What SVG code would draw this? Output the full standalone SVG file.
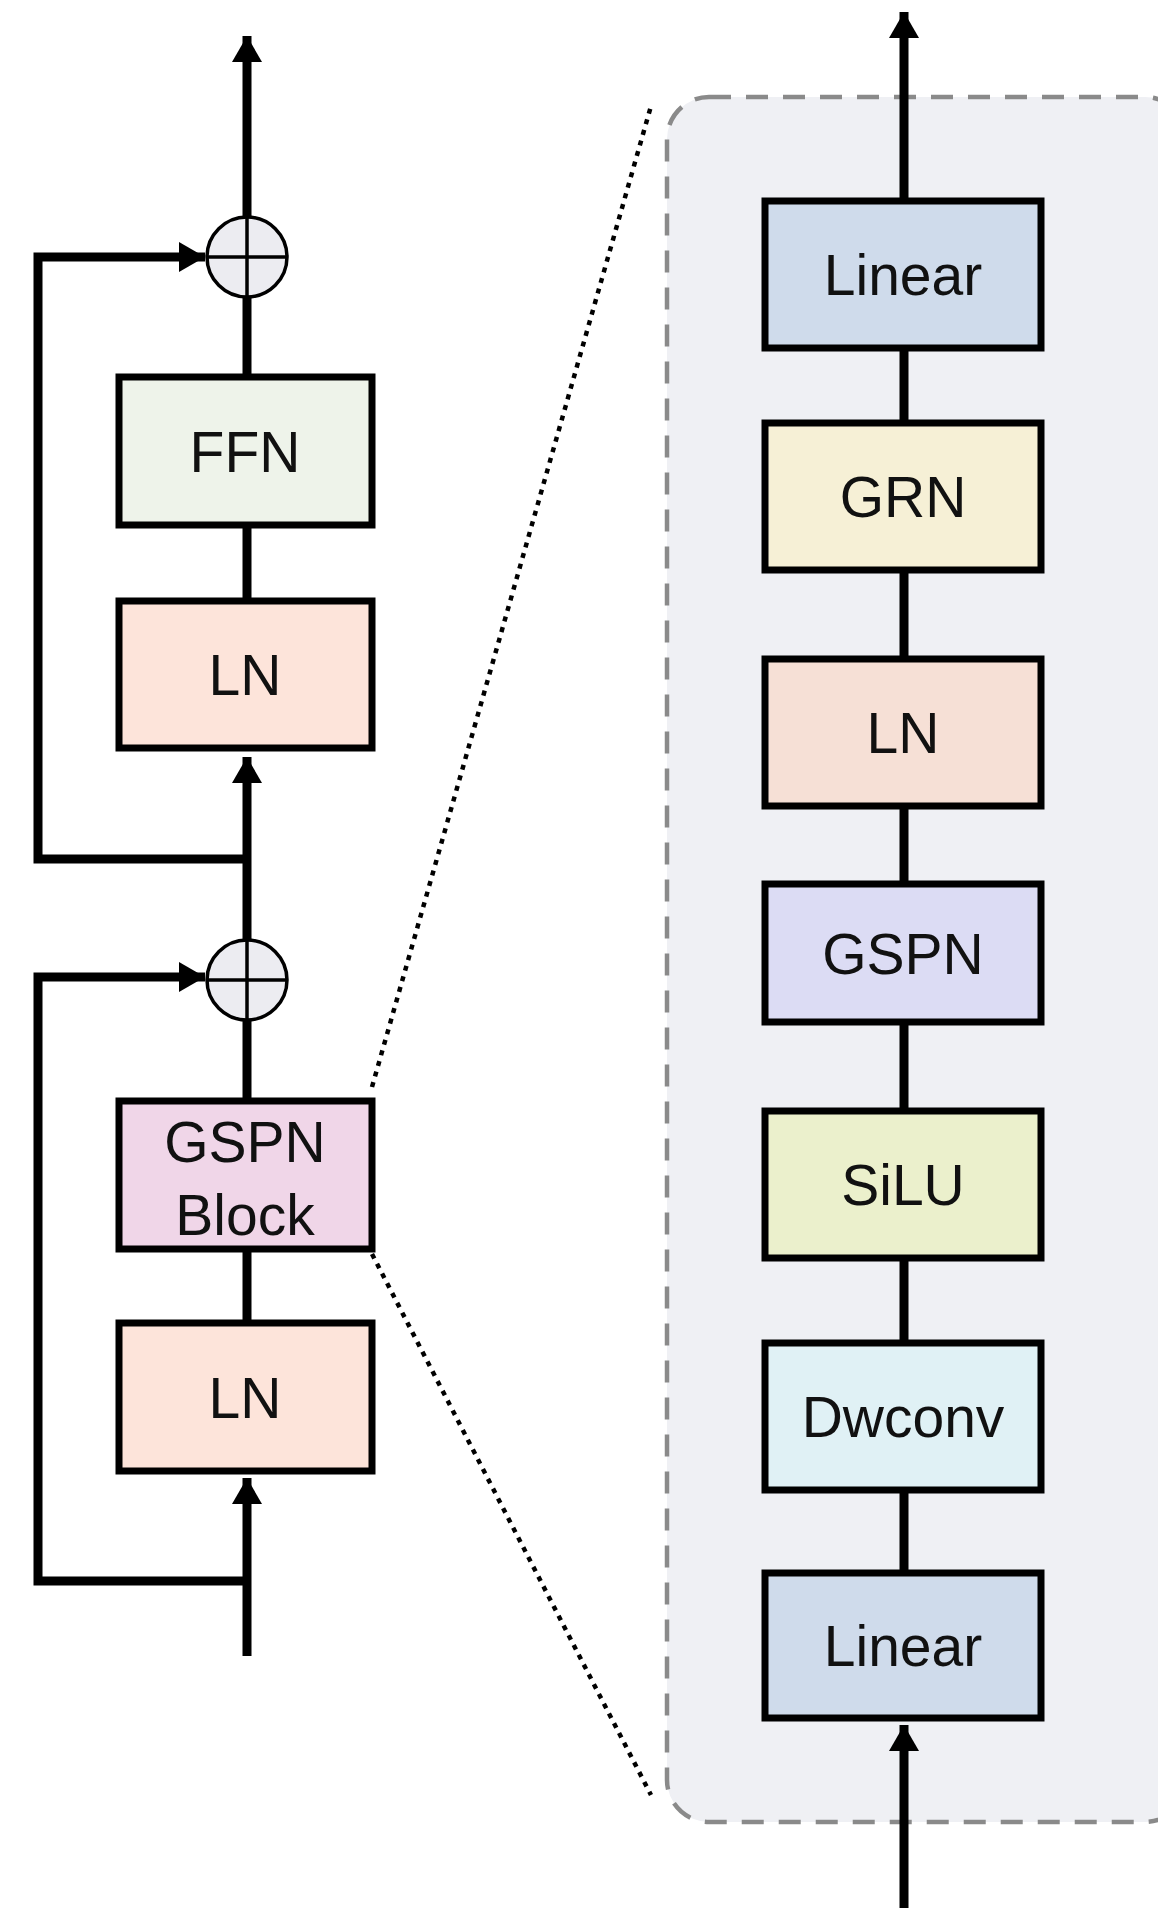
<svg xmlns="http://www.w3.org/2000/svg" width="1158" height="1908" viewBox="0 0 1158 1908">
<style>
.box{stroke:#000;stroke-width:7}
.t{font-family:"Liberation Sans",Arial,sans-serif;font-size:57px;fill:#111;text-anchor:middle}
.ln{stroke:#000;stroke-width:9;fill:none}
.dot{stroke:#000;stroke-width:4.5;fill:none;stroke-dasharray:5 6}
.sum{fill:#ececf1;stroke:#000;stroke-width:3.5}
</style>
<defs>
<marker id="ah" markerUnits="userSpaceOnUse" viewBox="0 0 26 30" refX="26" refY="15" markerWidth="26" markerHeight="30" orient="auto">
<path d="M0,0 L26,15 L0,30 z" fill="#000"/>
</marker>
</defs>
<rect width="1158" height="1908" fill="#fff"/>
<g id="container">
<rect x="667" y="97" width="520" height="1725" rx="42" fill="#eff0f4" stroke="#8a8a8a" stroke-width="4.5" stroke-dasharray="22 15"/>
</g>
<g id="connectors">
<line class="ln" x1="247" y1="217" x2="247" y2="36" marker-end="url(#ah)"/>
<line class="ln" x1="247" y1="297" x2="247" y2="377"/>
<line class="ln" x1="247" y1="525" x2="247" y2="601"/>
<path class="ln" d="M247 859 H38 V257 H205" marker-end="url(#ah)"/>
<line class="ln" x1="247" y1="940" x2="247" y2="757" marker-end="url(#ah)"/>
<line class="ln" x1="247" y1="1020" x2="247" y2="1101"/>
<line class="ln" x1="247" y1="1249" x2="247" y2="1323"/>
<path class="ln" d="M247 1581 H38 V977 H205" marker-end="url(#ah)"/>
<line class="ln" x1="247" y1="1656" x2="247" y2="1478" marker-end="url(#ah)"/>
<line class="dot" x1="372" y1="1087" x2="651" y2="106"/>
<line class="dot" x1="372" y1="1254" x2="651" y2="1795"/>
<line class="ln" x1="904" y1="201" x2="904" y2="12" marker-end="url(#ah)"/>
<line class="ln" x1="904" y1="348" x2="904" y2="423"/>
<line class="ln" x1="904" y1="570" x2="904" y2="659"/>
<line class="ln" x1="904" y1="806" x2="904" y2="884"/>
<line class="ln" x1="904" y1="1022" x2="904" y2="1111"/>
<line class="ln" x1="904" y1="1258" x2="904" y2="1343"/>
<line class="ln" x1="904" y1="1490" x2="904" y2="1573"/>
<line class="ln" x1="904" y1="1908" x2="904" y2="1725" marker-end="url(#ah)"/>
</g>
<g id="sum1"><circle class="sum" cx="247" cy="257" r="40"/><path d="M207 257 H287 M247 217 V297" stroke="#000" stroke-width="3.5"/></g>
<g id="sum2"><circle class="sum" cx="247" cy="980" r="40"/><path d="M207 980 H287 M247 940 V1020" stroke="#000" stroke-width="3.5"/></g>
<g id="ffn"><rect class="box" x="119" y="377" width="253" height="148" fill="#eef3ea"/><text class="t" x="245" y="472">FFN</text></g>
<g id="ln1"><rect class="box" x="119" y="601" width="253" height="147" fill="#fde4da"/><text class="t" x="245" y="695">LN</text></g>
<g id="gspnblock"><rect class="box" x="119" y="1101" width="253" height="148" fill="#f0d6e8"/><text class="t" x="245" y="1162">GSPN</text><text class="t" x="245" y="1235">Block</text></g>
<g id="ln2"><rect class="box" x="119" y="1323" width="253" height="148" fill="#fde4da"/><text class="t" x="245" y="1418">LN</text></g>
<g id="linear_top"><rect class="box" x="765" y="201" width="276" height="147" fill="#cfdbeb"/><text class="t" x="903" y="295">Linear</text></g>
<g id="grn"><rect class="box" x="765" y="423" width="276" height="147" fill="#f6f0d6"/><text class="t" x="903" y="517">GRN</text></g>
<g id="ln_r"><rect class="box" x="765" y="659" width="276" height="147" fill="#f6e0d6"/><text class="t" x="903" y="753">LN</text></g>
<g id="gspn"><rect class="box" x="765" y="884" width="276" height="138" fill="#dcdcf4"/><text class="t" x="903" y="974">GSPN</text></g>
<g id="silu"><rect class="box" x="765" y="1111" width="276" height="147" fill="#ebf0cc"/><text class="t" x="903" y="1205">SiLU</text></g>
<g id="dwconv"><rect class="box" x="765" y="1343" width="276" height="147" fill="#e0f1f5"/><text class="t" x="903" y="1437">Dwconv</text></g>
<g id="linear_bot"><rect class="box" x="765" y="1573" width="276" height="145" fill="#cfdbeb"/><text class="t" x="903" y="1666">Linear</text></g>
</svg>
